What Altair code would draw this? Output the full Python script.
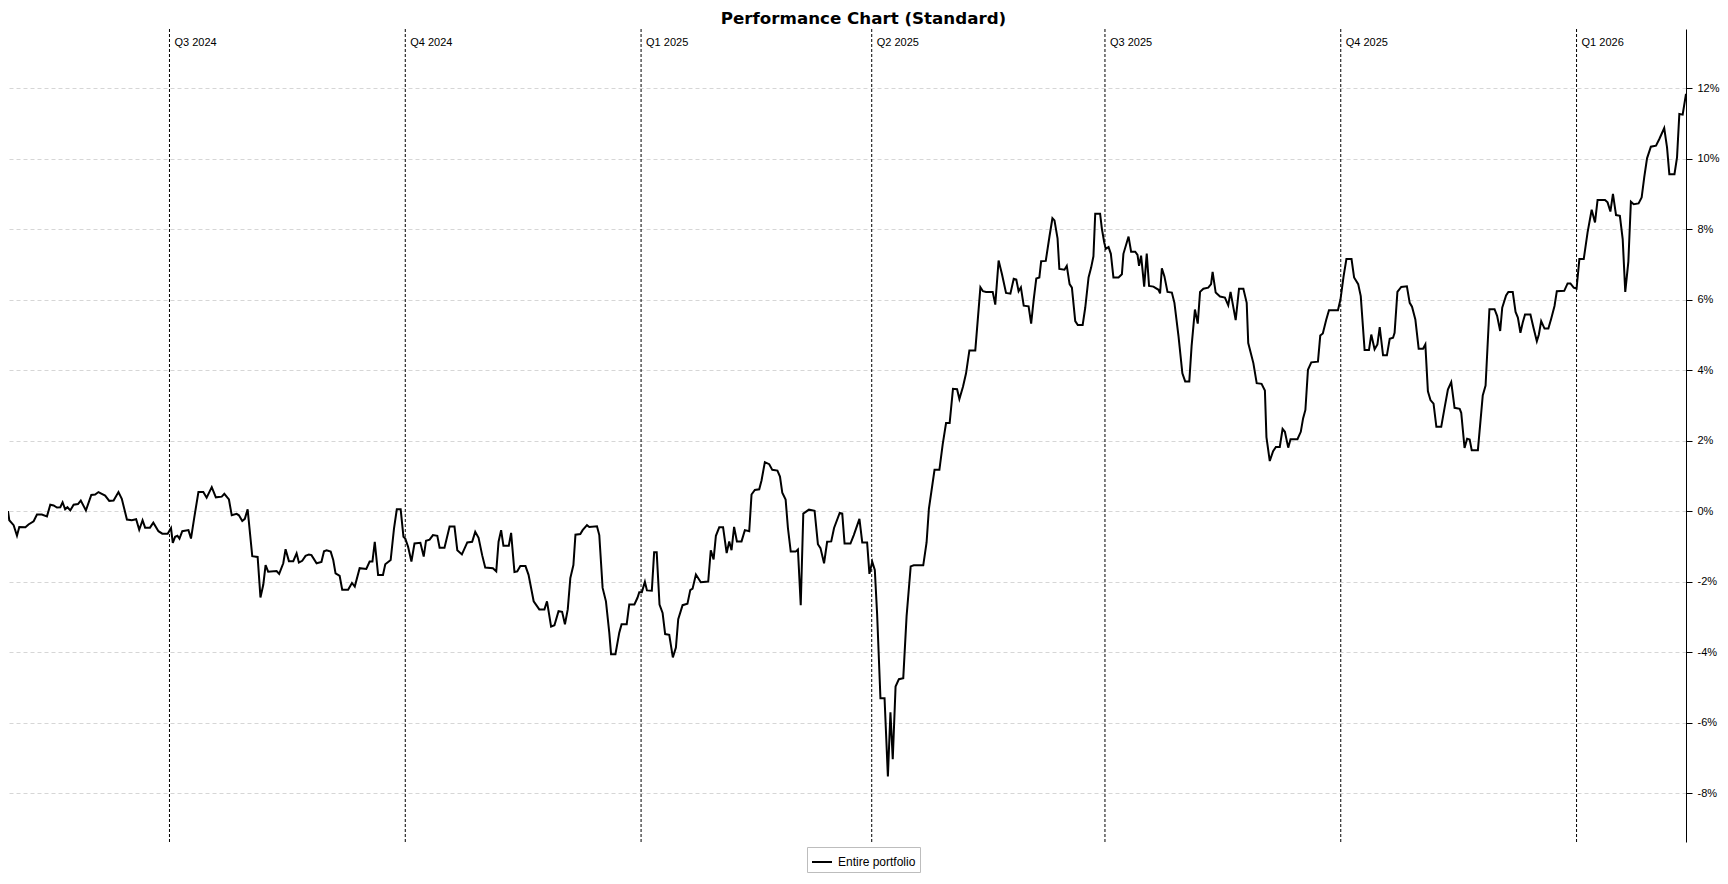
import altair as alt
import pandas as pd

START = "2024-04-29"
SERIES = "Entire portfolio"
TITLE = "Performance Chart (Standard)"

# day offset from START and cumulative performance in %
days = [
    0.0, 0.5, 2.2, 3.5, 4.4, 6.8, 8.0, 10.0, 11.3, 13.2, 15.2, 16.5, 17.8, 19.1, 20.4, 21.3, 22.3, 23.2, 24.3, 25.6,
    27.3, 28.4, 30.4, 32.5, 34.0, 35.3, 36.6, 37.9, 39.5, 41.2, 43.1, 44.4, 46.4, 48.3, 50.0, 51.2, 52.5, 53.5, 55.4, 56.7,
    58.7, 60.2, 62.3, 63.6, 64.3, 65.2, 66.1, 66.9, 68.0, 70.4, 71.4, 72.7, 74.3, 76.2, 77.5, 79.5, 81.1, 83.4, 84.4, 86.2,
    87.3, 89.2, 90.1, 91.4, 92.4, 93.5, 95.3, 97.4, 98.5, 99.6, 100.5, 101.5, 104.8, 105.8, 107.4, 108.3, 109.6, 111.3, 112.6, 113.5,
    114.8, 116.1, 117.4, 118.4, 120.4, 122.3, 123.3, 124.3, 125.9, 126.9, 127.8, 128.8, 129.4, 130.4,
    132.7, 134.2, 135.3, 137.2, 139.8, 141.1, 142.2, 143.1, 144.4, 146.3, 147.2, 149.3, 150.6, 151.7, 153.2, 154.3, 155.0, 156.1,
    157.4, 158.6, 160.9, 162.2, 163.1, 164.5, 165.8, 167.5, 168.4, 170.3, 172.3, 174.2, 175.3, 177.1, 179.2, 181.1, 182.3, 183.6,
    185.0, 186.2, 189.2, 190.5, 191.4, 192.4, 193.3, 195.4, 196.3, 197.6, 198.7, 199.9, 201.9, 203.1, 205.1, 207.3, 209.3, 210.3,
    211.9, 213.2, 214.8, 216.2, 217.3, 218.4, 219.4, 220.6, 221.4, 223.3, 224.2, 225.9, 226.8, 229.8, 230.7, 232.0, 233.3, 234.6,
    235.3, 237.0, 238.5, 239.4, 241.4, 242.4, 244.4, 245.6, 246.3, 247.3, 248.5, 249.3, 251.2, 252.1, 253.1, 254.2, 255.4, 256.4,
    258.0, 259.4, 260.6, 261.5, 263.2,
    265.1, 266.2, 267.1, 268.4, 270.3, 273.2, 274.2, 275.3, 276.2, 277.5, 279.0, 280.4, 281.4, 282.3, 283.3, 284.4, 286.2, 287.5,
    289.2, 290.1, 291.4, 293.1, 294.0, 295.3, 297.0, 298.2, 300.2, 301.2, 302.1, 303.4, 304.3, 305.4, 307.3, 308.2, 309.3, 310.3,
    312.5, 314.7, 316.0, 317.0, 318.4, 319.6, 321.2, 322.3, 324.5, 325.5, 326.4, 328.7, 330.0, 332.2, 333.3, 335.2, 336.1, 337.2,
    338.2, 339.1, 340.4, 342.0, 343.3, 344.3, 345.2, 346.3, 347.6, 349.3, 350.6, 352.2, 353.4, 357.1, 358.4, 359.3, 361.5, 363.4,
    364.7, 366.0, 367.4, 368.7, 370.3, 371.2, 372.6, 373.8, 375.1, 377.4, 379.4, 380.4, 381.6, 384.2, 385.2, 386.5, 387.8, 389.4,
    391.1, 392.4, 393.4, 394.3, 395.2, 396.3, 398.2,
    399.2, 400.2, 401.2, 402.4, 403.1, 404.9, 406.3, 407.5, 408.3, 409.5, 410.2, 412.2, 413.1, 414.2, 415.1, 416.4, 417.4, 419.3,
    420.3, 421.6, 422.6, 423.5, 424.2, 426.1, 426.8, 427.7, 428.3, 429.4, 430.3, 431.3, 433.3, 434.6, 435.2, 437.2, 438.2, 439.8,
    440.7, 441.3, 442.1, 443.3, 444.3, 445.2, 446.9, 448.9, 449.5, 450.2, 451.2, 452.4, 454.1, 455.1, 456.7, 458.2, 459.3, 460.9,
    461.8, 463.1, 464.2, 465.1, 466.4, 468.3, 469.4, 470.0, 471.2, 472.9, 474.8, 476.1, 477.0, 479.0, 480.3, 482.0, 483.3, 483.9,
    485.9, 487.2, 489.1, 490.4, 491.0, 492.3, 493.6, 494.7, 496.2, 497.3, 498.2, 499.5, 500.4, 503.1, 504.4, 505.3, 506.2, 507.2,
    508.5, 511.1, 512.0, 513.0, 514.3, 515.4, 518.9, 519.9, 521.1, 522.2, 524.2, 525.2, 526.8, 527.8,
    529.3, 531.0, 531.9, 533.2, 534.3, 535.2, 536.5, 538.0, 539.1, 540.4, 541.0, 542.1, 543.6, 545.8, 546.9, 547.8, 549.1, 550.4,
    552.1, 553.0, 554.0, 555.0, 556.2, 557.3, 559.2, 560.5, 561.8, 563.1, 564.4, 566.4, 567.0, 568.3, 569.3, 570.3, 571.1, 573.5,
    575.4, 576.5, 578.0, 580.0, 581.0, 582.2, 583.0, 584.5, 585.4, 587.1, 588.2, 589.1, 590.1, 591.0, 591.9, 594.0, 595.2, 596.5,
    597.3, 598.2, 599.5, 601.0, 602.1, 603.4, 604.3, 607.2, 608.5, 609.6, 610.9, 612.0, 613.1, 614.8, 616.3, 617.9, 619.2, 620.2,
    623.1, 624.1, 625.2, 626.2, 627.4, 628.9, 630.0, 631.0, 632.2, 633.2, 634.3, 636.2, 637.4, 638.4, 639.5, 641.0, 643.0, 644.3,
    646.2, 647.3, 648.2, 650.2, 651.2, 652.1, 653.4, 654.7,
]

perf = [
    0.00, -0.26, -0.40, -0.70, -0.45, -0.46, -0.38, -0.29, -0.10, -0.10, -0.15, 0.18, 0.16, 0.10, 0.11, 0.25, 0.05, 0.11, 0.02, 0.18,
    0.20, 0.30, 0.02, 0.46, 0.47, 0.54, 0.49, 0.44, 0.29, 0.30, 0.54, 0.35, -0.24, -0.26, -0.23, -0.53, -0.26, -0.47, -0.47, -0.33,
    -0.57, -0.64, -0.64, -0.48, -0.90, -0.73, -0.70, -0.78, -0.57, -0.54, -0.78, -0.17, 0.54, 0.54, 0.38, 0.68, 0.39, 0.41, 0.49, 0.33,
    -0.12, -0.08, -0.12, -0.28, -0.22, 0.05, -1.28, -1.30, -2.45, -2.09, -1.53, -1.72, -1.70, -1.78, -1.48, -1.08, -1.42, -1.42, -1.20, -1.46,
    -1.41, -1.27, -1.23, -1.25, -1.48, -1.44, -1.14, -1.11, -1.15, -1.39, -1.77, -1.81, -1.84, -2.23,
    -2.23, -2.04, -2.14, -1.62, -1.64, -1.43, -1.43, -0.87, -1.81, -1.81, -1.51, -1.39, -0.50, 0.05, 0.05, -0.73, -0.78, -1.01,
    -1.43, -0.92, -0.90, -1.29, -0.84, -0.81, -0.68, -0.70, -1.04, -1.04, -0.44, -0.44, -1.11, -1.23, -0.89, -0.87, -0.59, -0.76,
    -1.25, -1.60, -1.62, -1.71, -0.87, -0.54, -0.98, -0.98, -0.62, -1.73, -1.71, -1.56, -1.56, -1.81, -2.56, -2.79, -2.79, -2.56,
    -3.28, -3.24, -2.84, -2.86, -3.21, -2.79, -1.90, -1.53, -0.67, -0.65, -0.54, -0.40, -0.45, -0.43, -0.68, -2.18, -2.56, -3.45,
    -4.06, -4.06, -3.45, -3.21, -3.21, -2.65, -2.65, -2.46, -2.30, -2.30, -2.01, -2.25, -2.26, -1.17, -1.17, -2.65, -2.89, -3.49,
    -3.51, -4.15, -3.87, -3.07, -2.67,
    -2.63, -2.24, -2.20, -1.80, -2.02, -2.00, -1.11, -1.37, -0.70, -0.46, -0.46, -1.19, -0.86, -1.11, -0.45, -0.86, -0.86, -0.54,
    -0.57, 0.47, 0.60, 0.62, 0.87, 1.39, 1.33, 1.17, 1.15, 0.98, 0.52, 0.33, -0.48, -1.15, -1.15, -1.09, -2.67, -0.07,
    0.04, 0.01, -0.94, -1.05, -1.48, -0.87, -0.86, -0.48, -0.05, -0.07, -0.92, -0.92, -0.68, -0.22, -0.89, -0.89, -1.78, -1.44,
    -1.67, -2.92, -5.31, -5.31, -7.53, -5.71, -7.04, -4.98, -4.77, -4.74, -2.98, -1.57, -1.54, -1.54, -0.89, 0.06, 1.17, 1.17,
    1.90, 2.50, 2.50, 3.47, 3.46, 3.18, 3.53, 3.91, 4.56, 4.56, 6.35, 6.24, 6.22, 6.22, 5.86, 7.11, 6.73, 6.19,
    6.17, 6.59, 6.57, 6.24, 6.35, 5.83, 5.81,
    5.32, 6.01, 6.60, 6.63, 7.09, 7.10, 7.77, 8.31, 8.25, 7.74, 6.87, 6.85, 6.96, 6.44, 6.34, 5.39, 5.28, 5.28,
    5.77, 6.63, 6.91, 7.23, 8.44, 8.44, 8.01, 7.63, 7.44, 7.49, 7.30, 6.63, 6.63, 6.72, 7.30, 7.79, 7.36, 7.36,
    7.27, 6.96, 7.25, 6.37, 7.31, 6.39, 6.37, 6.28, 6.18, 6.89, 6.66, 6.22, 6.20, 5.91, 4.96, 3.91, 3.68, 3.68,
    4.68, 5.72, 5.32, 6.22, 6.31, 6.34, 6.44, 6.79, 6.20, 6.09, 6.06, 5.84, 6.22, 5.42, 6.31, 6.31, 5.91, 4.77,
    4.20, 3.63, 3.61, 3.42, 2.10, 1.42, 1.70, 1.82, 1.82, 2.33, 2.25, 1.80, 2.04, 2.04, 2.25, 2.63, 2.87, 4.01,
    4.22, 4.24, 4.98, 5.04, 5.42, 5.70, 5.70, 6.01, 6.66, 7.15, 7.15, 6.63, 6.44, 6.10,
    4.57, 4.57, 5.01, 4.59, 4.73, 5.22, 4.42, 4.42, 4.89, 4.92, 5.06, 6.22, 6.36, 6.38, 5.91, 5.80, 5.44, 4.61,
    4.61, 4.73, 3.40, 3.15, 3.05, 2.39, 2.39, 2.93, 3.45, 3.66, 2.93, 2.90, 2.79, 1.79, 2.05, 2.03, 1.73, 1.73,
    3.28, 3.56, 5.73, 5.73, 5.54, 5.11, 5.77, 6.12, 6.22, 6.22, 5.65, 5.49, 5.06, 5.35, 5.58, 5.58, 5.20, 4.82,
    5.01, 5.39, 5.18, 5.18, 5.46, 5.82, 6.24, 6.25, 6.46, 6.46, 6.34, 6.31, 7.15, 7.15, 7.91, 8.55, 8.19, 8.83,
    8.83, 8.76, 8.50, 9.00, 8.40, 8.38, 7.72, 6.22, 7.07, 8.78, 8.71, 8.73, 8.90, 9.47, 10.01, 10.34, 10.37, 10.56,
    10.87, 10.32, 9.56, 9.56, 10.04, 11.27, 11.25, 11.84,
]

quarter_dates = ["2024-07-01", "2024-10-01", "2025-01-01", "2025-04-01", "2025-07-01", "2025-10-01", "2026-01-01"]
quarter_labels = ["Q3 2024", "Q4 2024", "Q1 2025", "Q2 2025", "Q3 2025", "Q4 2025", "Q1 2026"]

y_ticks = [-8, -6, -4, -2, 0, 2, 4, 6, 8, 10, 12]
y_domain = [-9.39, 13.68]

LABEL_FONT = "Liberation Sans"

perf_df = pd.DataFrame({
    "date": pd.Timestamp(START) + pd.to_timedelta(days, unit="D"),
    "perf": perf,
    "series": SERIES,
})
q_df = pd.DataFrame({"date": pd.to_datetime(quarter_dates), "label": quarter_labels})

x_scale = alt.Scale(nice=False, padding=0)

rules = alt.Chart(q_df).mark_rule(color="black", strokeDash=[3, 2], strokeWidth=1).encode(
    x=alt.X("date:T", scale=x_scale, axis=None)
)

qtext = alt.Chart(q_df).mark_text(
    align="left", baseline="alphabetic", dx=5, font=LABEL_FONT, fontSize=11, color="black"
).encode(
    x=alt.X("date:T", scale=x_scale, axis=None),
    y=alt.value(16.7),
    text="label:N",
)

line = alt.Chart(perf_df).mark_line(strokeWidth=2, clip=True).encode(
    x=alt.X("date:T", scale=x_scale, axis=None),
    y=alt.Y(
        "perf:Q",
        scale=alt.Scale(domain=y_domain, nice=False, zero=False),
        axis=alt.Axis(
            orient="right",
            values=y_ticks,
            labelExpr="datum.value + '%'",
            title=None,
            grid=True,
            gridColor="#d6d6d6",
            gridDash=[4, 3],
            gridWidth=1,
            domainColor="black",
            domainWidth=1,
            tickColor="black",
            tickSize=6,
            tickWidth=1,
            labelPadding=5,
            labelAlign="left",
            labelBaseline="middle",
            labelFont=LABEL_FONT,
            labelFontSize=11,
            labelColor="black",
        ),
    ),
    color=alt.Color(
        "series:N",
        scale=alt.Scale(domain=[SERIES], range=["black"]),
        legend=alt.Legend(
            title=None,
            orient="none",
            legendX=799,
            legendY=818,
            symbolType="stroke",
            symbolSize=400,
            symbolStrokeWidth=2,
            labelFont=LABEL_FONT,
            labelFontSize=12,
            labelColor="black",
            labelOffset=5,
            padding=4,
            strokeColor="#bdbdbd",
            fillColor="white",
        ),
    ),
)

chart = alt.layer(rules, qtext, line).properties(
    width=1678,
    height=813,
    background="white",
    padding={"left": 0, "top": 2, "right": 0, "bottom": 0},
    title=alt.TitleParams(
        TITLE,
        font="DejaVu Sans",
        fontSize=16.7,
        fontWeight="bold",
        color="black",
        anchor="middle",
        frame="bounds",
        offset=1,
    ),
).configure_view(strokeWidth=0)

chart.save("out.html", embed_options={"renderer": "svg", "actions": False})
